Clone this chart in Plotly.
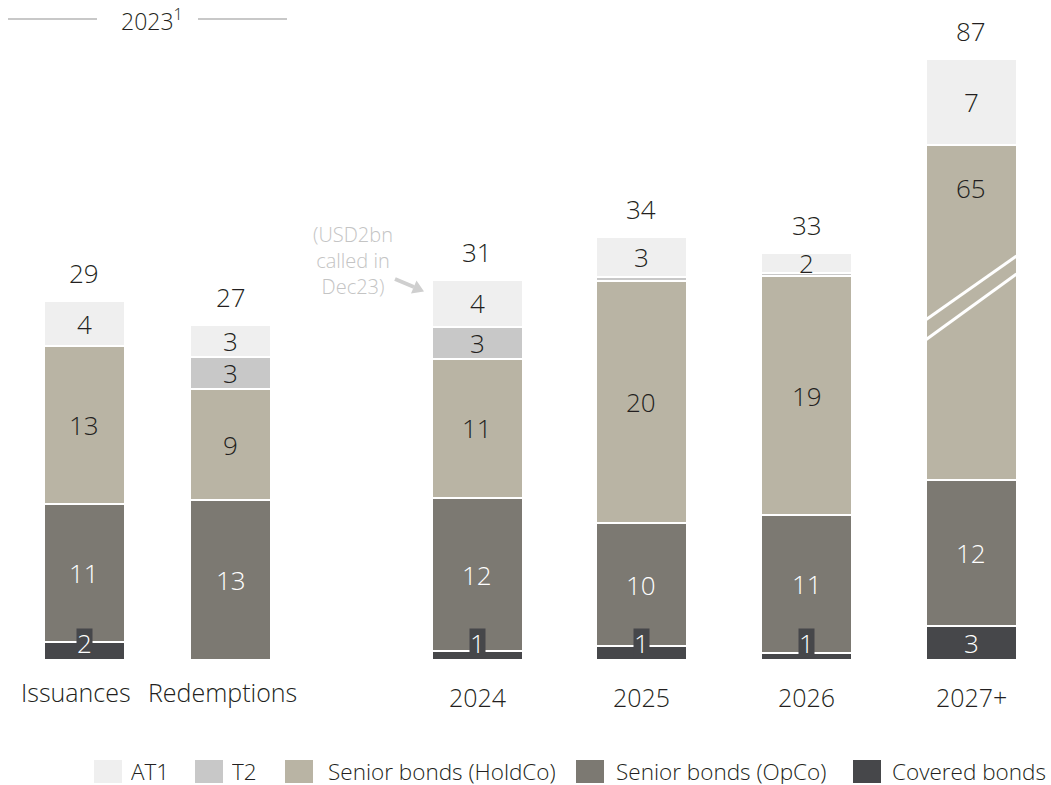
import plotly.graph_objects as go

# ---- data (USD bn) ----
CATEGORIES = ["Issuances", "Redemptions", "2024", "2025", "2026", "2027+"]
AT1 = [3.7, 2.6, 3.8, 3.3, 1.6, 7.0]
T2 = [0.0, 2.6, 2.6, 0.3, 0.25, 0.0]
SENIOR_HOLDCO = [12.8, 9.0, 11.3, 19.7, 19.4, 65.3]
SENIOR_OPCO = [11.2, 13.0, 12.5, 10.0, 11.2, 11.8]
COVERED = [1.5, 0.0, 0.7, 1.1, 0.6, 2.8]

# ---- layout constants ----
W, H = 1051, 785
BASE_PX = 660            # pixel row of the zero line
PX_PER_UNIT = 12.3
X_POS = [84, 230.5, 477, 641, 806.5, 971]
BAR_W = [81, 81, 91, 91, 91, 91]
# part of the 2027+ HoldCo bar removed by the axis break
BREAK_CUT = [0, 0, 0, 0, 0, 38.0]

FONT = "Open Sans"
WEIGHT = 300
DARK_TXT = "#231f20"
NOTE_GREY = "#c4c4c4"
COLORS = {
    "AT1": "#efefef",
    "T2": "#c8c8c8",
    "Senior bonds (HoldCo)": "#b9b4a4",
    "Senior bonds (OpCo)": "#7c7972",
    "Covered bonds": "#46474a",
}
TXT_COLORS = {
    "AT1": DARK_TXT,
    "T2": DARK_TXT,
    "Senior bonds (HoldCo)": DARK_TXT,
    "Senior bonds (OpCo)": "white",
    "Covered bonds": "white",
}

holdco_shown = [v - c for v, c in zip(SENIOR_HOLDCO, BREAK_CUT)]

# stacking order, bottom to top
stack = [
    ("Covered bonds", COVERED, COVERED),
    ("Senior bonds (OpCo)", SENIOR_OPCO, SENIOR_OPCO),
    ("Senior bonds (HoldCo)", SENIOR_HOLDCO, holdco_shown),
    ("T2", T2, T2),
    ("AT1", AT1, AT1),
]

y_top = BASE_PX / PX_PER_UNIT


def py(px):
    """pixel row -> paper y"""
    return (BASE_PX - px) / BASE_PX


def font(size, color=DARK_TXT):
    return dict(family=FONT, size=size, color=color, weight=WEIGHT)


fig = go.Figure()
for name, real, shown in stack:
    fig.add_trace(go.Bar(
        x=X_POS,
        y=[s if s > 0 else None for s in shown],
        width=BAR_W,
        name=name,
        marker=dict(color=COLORS[name], line=dict(color="white", width=2)),
        customdata=real,
        hovertemplate="%{customdata:.1f}<extra>" + name + "</extra>",
        showlegend=False,
    ))

annotations = []
shapes = []

# segment labels
base = [0.0] * len(CATEGORIES)
for name, real, shown in stack:
    for i, (r, s) in enumerate(zip(real, shown)):
        if r >= 0.5:
            y = base[i] + s / 2
            bg = None
            if name == "Covered bonds":
                y = max(y, 1.4)
                bg = COLORS[name]
            if name == "Senior bonds (HoldCo)" and BREAK_CUT[i] > 0:
                y = base[i] + s - 3.5
            annotations.append(dict(
                x=X_POS[i], y=y, xref="x", yref="y", yanchor="middle",
                text=f"{r:.0f}", showarrow=False, height=28,
                font=font(26, TXT_COLORS[name]),
                bgcolor=bg, borderpad=0,
            ))
        base[i] += s

# totals above the bars
totals = [sum(v) for v in zip(AT1, T2, SENIOR_HOLDCO, SENIOR_OPCO, COVERED)]
for i, t in enumerate(totals):
    annotations.append(dict(
        x=X_POS[i], y=base[i], xref="x", yref="y", yanchor="middle",
        yshift=28, text=f"{t:.0f}", showarrow=False, font=font(26),
    ))

# category labels
for i, c in enumerate(CATEGORIES):
    first_two = i < 2
    annotations.append(dict(
        x=X_POS[i], y=py(692 if first_two else 697), xref="x", yref="paper",
        yanchor="middle", xshift=-8 if first_two else 0,
        text=c, showarrow=False, font=font(25),
    ))

# axis-break marks on the 2027+ bar
for i, cut in enumerate(BREAK_CUT):
    if cut > 0:
        x0 = X_POS[i] - BAR_W[i] / 2
        x1 = X_POS[i] + BAR_W[i] / 2
        for left_px, right_px in ((320, 256), (340, 274)):
            shapes.append(dict(
                type="line", xref="x", yref="y",
                x0=x0, x1=x1,
                y0=(BASE_PX - left_px) / PX_PER_UNIT,
                y1=(BASE_PX - right_px) / PX_PER_UNIT,
                line=dict(color="white", width=3),
            ))

# note on the 2024 AT1, with a small pointer arrow
annotations.append(dict(
    x=353, y=py(260), xref="x", yref="paper", yanchor="middle",
    text="(USD2bn<br>called in<br>Dec23)", showarrow=False,
    align="center", font=font(20, NOTE_GREY),
))
shapes.append(dict(
    type="line", xref="x", yref="paper",
    x0=395, y0=py(279), x1=414, y1=py(287),
    line=dict(color="#cfcfcf", width=4),
))
shapes.append(dict(
    type="path", xref="x", yref="paper",
    path=(f"M 424,{py(291.5)} L 416.5,{py(280.5)} "
          f"L 411,{py(293.5)} Z"),
    fillcolor="#cfcfcf", line=dict(width=0),
))

# header
annotations.append(dict(
    x=152, y=py(20), xref="x", yref="paper", yanchor="middle",
    text="2023<sup>1</sup>", showarrow=False, font=font(23),
))
for x0, x1 in ((8, 97), (198, 287)):
    shapes.append(dict(
        type="line", xref="x", yref="paper", x0=x0, x1=x1,
        y0=py(19), y1=py(19), line=dict(color="#c8c8c8", width=2),
    ))

# legend
legend_items = [
    ("AT1", 94, 130),
    ("T2", 195, 231),
    ("Senior bonds (HoldCo)", 285, 327),
    ("Senior bonds (OpCo)", 576, 615),
    ("Covered bonds", 853, 891),
]
for name, sq_x, tx_x in legend_items:
    shapes.append(dict(
        type="rect", xref="x", yref="paper",
        x0=sq_x, x1=sq_x + 28, y0=py(783), y1=py(760),
        fillcolor=COLORS[name], line=dict(width=0),
    ))
    annotations.append(dict(
        x=tx_x, y=py(771), xref="x", yref="paper",
        xanchor="left", yanchor="middle", text=name, showarrow=False,
        height=26, borderpad=0, font=font(22.5),
    ))

fig.update_layout(
    width=W, height=H,
    margin=dict(l=0, r=0, t=0, b=H - BASE_PX),
    barmode="stack",
    plot_bgcolor="white", paper_bgcolor="white",
    xaxis=dict(range=[0, W], visible=False, fixedrange=True),
    yaxis=dict(range=[0, y_top], visible=False, fixedrange=True),
    annotations=annotations,
    shapes=shapes,
    font=dict(family=FONT),
)

fig.write_html("out.html")
